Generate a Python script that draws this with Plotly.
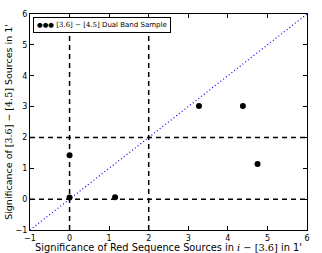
import plotly.graph_objects as go

# Data
x_red = [0.0, 0.0, 1.15, 3.27, 4.38, 4.75]
y_dual = [1.42, 0.05, 0.06, 3.02, 3.02, 1.14]
h_lines = [0, 2]
v_lines = [0, 2]
one_to_one = [-1, 6]
ticks = [-1, 0, 1, 2, 3, 4, 5, 6]
legend_label = "[3.6] − [4.5] Dual Band Sample"

serif = "DejaVu Serif"
sans = "DejaVu Sans"

fig = go.Figure()

# one-to-one line
fig.add_trace(go.Scatter(x=one_to_one, y=one_to_one, mode="lines",
                         line=dict(color="blue", width=1.2, dash="1px,2.5px"),
                         showlegend=False, hoverinfo="skip"))

for h in h_lines:
    fig.add_trace(go.Scatter(x=[one_to_one[0], one_to_one[1]], y=[h, h], mode="lines",
                             line=dict(color="black", width=1.5, dash="5px,4px"),
                             showlegend=False, hoverinfo="skip"))
for v in v_lines:
    fig.add_trace(go.Scatter(x=[v, v], y=[one_to_one[0], one_to_one[1]], mode="lines",
                             line=dict(color="black", width=1.5, dash="5px,4px"),
                             showlegend=False, hoverinfo="skip"))

fig.add_trace(go.Scatter(x=x_red, y=y_dual, mode="markers",
                         marker=dict(color="black", size=6),
                         showlegend=False))

axis_common = dict(range=[-1, 6], tickvals=ticks, ticks="inside", ticklen=4,
                   tickcolor="black", showline=True, linecolor="black", linewidth=1,
                   mirror="ticks", showgrid=False, zeroline=False, automargin=False,
                   tickfont=dict(family=sans, size=8, color="black"))

fig.update_xaxes(**axis_common,
                 title=dict(text="Significance of Red Sequence Sources in "
                                 f"<span style='font-family:{serif}'><i>i</i> − [3.6]</span> in 1'",
                            font=dict(family=sans, size=9.8, color="black"), standoff=4))
fig.update_yaxes(**axis_common,
                 title=dict(text=f"Significance of <span style='font-family:{serif}'>[3.6] − [4.5]</span> Sources in 1'",
                            font=dict(family=sans, size=9.5, color="black"), standoff=1))

fig.add_annotation(xref="paper", yref="paper", x=0.011, y=0.986, xanchor="left", yanchor="top",
                   text=f"<span style='font-size:6.5px'>●●●</span> <span style='font-family:{serif}'>{legend_label[:13]}</span>{legend_label[13:]}",
                   showarrow=False, font=dict(family=sans, size=7, color="black"),
                   bordercolor="black", borderwidth=1, borderpad=3, bgcolor="white", align="left")

fig.update_layout(width=322, height=253, margin=dict(l=30, r=15, t=14, b=23),
                  paper_bgcolor="white", plot_bgcolor="white")

fig.write_html("out.html", config={"displayModeBar": False},
               post_script="document.body.style.margin='0';")
